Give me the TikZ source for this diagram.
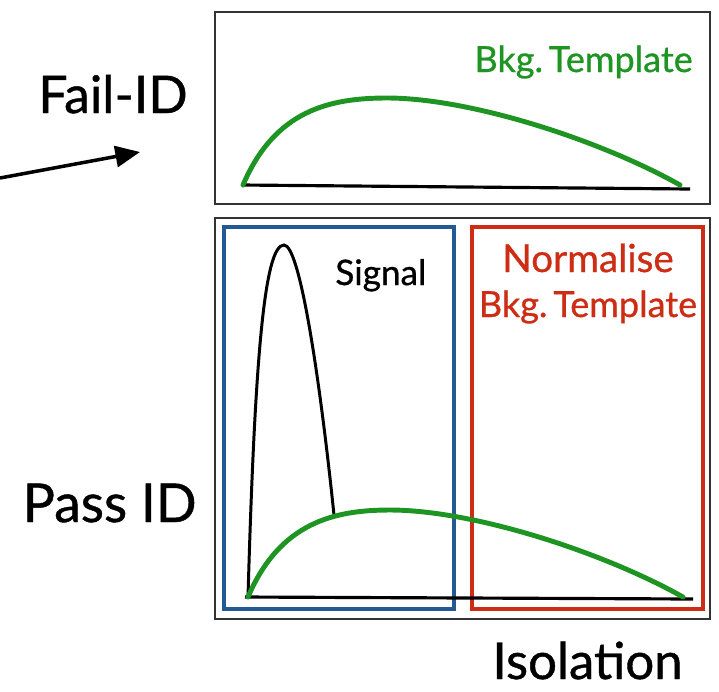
\documentclass[tikz,border=0pt]{standalone}
\usepackage{fontspec}
\setmainfont{Lato}[FakeBold=0.8]
\usetikzlibrary{arrows.meta,positioning}
\definecolor{bkggreen}{RGB}{30,148,35}
\definecolor{normred}{RGB}{205,45,20}
\definecolor{sigblue}{RGB}{35,90,150}

\begin{document}
\begin{tikzpicture}[>=stealth, x=0.02cm, y=-0.02cm]
	\tikzset{panel/.style={draw=black!80, line width=0.9pt},
		bkg/.style={draw=bkggreen, line width=2.8pt, line cap=round},
		axisline/.style={line width=1.8pt},
		region/.style={line width=1.8pt},
		lbl/.style={inner sep=0pt}}
	\useasboundingbox (0,0) rectangle (719,691);
	% fail-ID panel
	\draw[panel] (215,12) rectangle (710,204);
	\draw[axisline] (242,185) -- (690,189);
	\draw[bkg] (243,185) .. controls (275,110) and (330,98) .. (387,98) .. controls (470,98) and (600,140) .. (680,185);
	\node[lbl, anchor=base east, text=bkggreen, font=\fontsize{20.5}{25}\selectfont] (bkgtop) at (693,72) {Bkg.\,Template};
	% pass-ID panel
	\draw[panel] (215,218) rectangle (710,619);
	\draw[region, draw=sigblue] (224,227) rectangle (454,609);
	\draw[region, draw=normred] (472,227) rectangle (703,609);
	\draw[axisline] (245,597) -- (693,599);
	\draw[line width=1.7pt] (248,597) .. controls (255,350) and (265,245) .. (284,245) .. controls (300,245) and (320,380) .. (334,515);
	\draw[bkg] (248,597) .. controls (280,522) and (335,510) .. (390,510) .. controls (473,510) and (603,552) .. (683,597);
	\node[lbl, anchor=base west, font=\fontsize{20}{24}\selectfont] (sig) at (335,285) {Signal};
	\node[lbl, anchor=base, text=normred, font=\fontsize{22}{26}\selectfont] (norm) at (588,272) {Normalise};
	\node[lbl, anchor=base, text=normred, font=\fontsize{20.5}{25}\selectfont] (bkgnorm) at (588,317) {Bkg.\,Template};
	% axis labels
	\node[lbl, anchor=base east, font=\fontsize{29.5}{34}\selectfont] (fail) at (188,113) {Fail-ID};
	\node[lbl, anchor=base east, font=\fontsize{30.5}{35}\selectfont] (pass) at (197,522) {Pass ID};
	\node[lbl, anchor=base east, font=\fontsize{29}{34}\selectfont] (iso) at (683,679) {Isolation};
	\coordinate (arrfrom) at (0,178);
	\coordinate (arrto) at (140,152);
	\draw[line width=2pt, -{Triangle[length=14pt, width=12pt]}] (arrfrom) -- (arrto);
\end{tikzpicture}
\end{document}
